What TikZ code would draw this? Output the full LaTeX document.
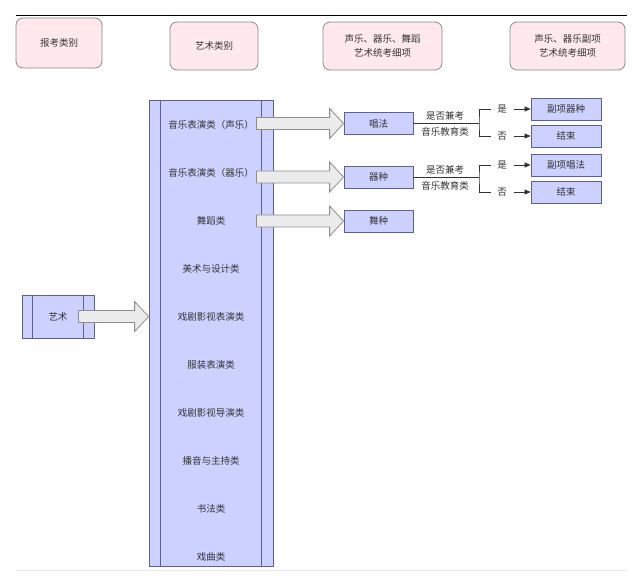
\documentclass[tikz,border=0pt]{standalone}
\usepackage{fontspec}
\setmainfont{Noto Sans CJK SC}
\usetikzlibrary{arrows.meta,calc}

\definecolor{hdrfill}{HTML}{FFE9EC}
\definecolor{hdrline}{HTML}{8A8A8A}
\definecolor{boxfill}{HTML}{CCD1FF}
\definecolor{boxline}{HTML}{5C6290}
\definecolor{arrfill}{HTML}{EBEBEB}
\definecolor{arrline}{HTML}{8E8E8E}
\definecolor{txtgray}{HTML}{333333}

\tikzset{
  hdr/.style={draw=hdrline, fill=hdrfill, rounded corners=7pt, line width=0.8pt,
    inner sep=0pt, align=center, text=txtgray, minimum height=48pt},
  procbox/.style={draw=boxline, fill=boxfill, line width=0.8pt, inner sep=0pt},
  itembox/.style={draw=boxline, fill=boxfill, line width=0.8pt, inner sep=0pt,
    minimum height=22pt, text=txtgray},
  lbl/.style={text=txtgray, inner sep=1pt},
  blockarr/.style={draw=arrline, fill=arrfill, line width=0.8pt},
  link/.style={draw=txtgray, line width=0.7pt},
  smallarr/.style={link, -{Triangle[length=6pt,width=5pt]}}
}

\newcommand\blockarrow[2]{%
  \path[blockarr] let \p1=(#1), \p2=(#2) in
    (\x1,\y2+6pt) -- (\x2-14pt,\y2+6pt) -- (\x2-14pt,\y2+15pt) -- (\x2,\y2)
    -- (\x2-14pt,\y2-15pt) -- (\x2-14pt,\y2-6pt) -- (\x1,\y2-6pt) -- cycle;}

\begin{document}
\begin{tikzpicture}[x=1pt,y=-1pt,font=\fontsize{9.5}{14}\selectfont]
\useasboundingbox (0,0) rectangle (635,577);

\draw[black, line width=0.8pt] (16,15) -- (627,15);
\draw[black!8, line width=0.8pt] (16,570) -- (627,570);

\node[hdr, minimum width=86pt, minimum height=50pt] (h1) at (59,43) {报考类别};
\node[hdr, minimum width=88pt] (h2) at (214,46) {艺术类别};
\node[hdr, minimum width=119pt] (h3) at (382.5,46) {声乐、器乐、舞蹈\\艺术统考细项};
\node[hdr, minimum width=115pt] (h4) at (567.5,46) {声乐、器乐副项\\艺术统考细项};

\node[procbox, minimum width=124pt, minimum height=466pt] (col) at (211,333) {};
\draw[boxline, line width=0.8pt] ($(col.north west)+(12,0)$) -- ($(col.south west)+(12,0)$);
\draw[boxline, line width=0.8pt] ($(col.north east)+(-12,0)$) -- ($(col.south east)+(-12,0)$);
\foreach \t [count=\i] in {音乐表演类（声乐）,音乐表演类（器乐）,舞蹈类,美术与设计类,
  戏剧影视表演类,服装表演类,戏剧影视导演类,播音与主持类,书法类,戏曲类}
  \node[lbl] (c\i) at (211,{125+(\i-1)*48}) {\t};

\node[procbox, minimum width=72pt, minimum height=43pt, text=txtgray] (art) at (58,316.5) {艺术};
\draw[boxline, line width=0.8pt] ($(art.north west)+(11,0)$) -- ($(art.south west)+(11,0)$);
\draw[boxline, line width=0.8pt] ($(art.north east)+(-11,0)$) -- ($(art.south east)+(-11,0)$);

\node[itembox, minimum width=69pt] (sing) at (378.5,123.5) {唱法};
\node[itembox, minimum width=69pt] (inst) at (378.5,177) {器种};
\node[itembox, minimum width=69pt] (dance) at (378.5,221) {舞种};

\blockarrow{$(art.east)+(-16,0)$}{col.west |- art.east}
\blockarrow{$(col.east)+(-17,0)$}{sing.west}
\blockarrow{$(col.east)+(-17,0)$}{inst.west}
\blockarrow{$(col.east)+(-17,0)$}{dance.west}

\node[itembox, minimum width=70pt] (sub1) at (566,109) {副项器种};
\node[itembox, minimum width=70pt] (end1) at (566,136) {结束};
\node[itembox, minimum width=70pt] (sub2) at (566,165) {副项唱法};
\node[itembox, minimum width=70pt] (end2) at (566,192) {结束};

\node[lbl] (ask1) at (445,116) {是否兼考};
\node[lbl] (edu1) at (445,132) {音乐教育类};
\node[lbl] (ask2) at (445,170) {是否兼考};
\node[lbl] (edu2) at (445,186) {音乐教育类};

\coordinate (b1) at (479,123.5);
\coordinate (b2) at (479,177);
\node[lbl] (y1) at (502,109) {是};
\node[lbl] (n1) at (502,136) {否};
\node[lbl] (y2) at (502,165) {是};
\node[lbl] (n2) at (502,192) {否};

\draw[link] (sing.east) -- (b1);
\draw[link] ($(y1.west)+(-5,0)$) -| (b1) |- ($(n1.west)+(-5,0)$);
\draw[smallarr] ($(y1.east)+(6,0)$) -- (sub1.west);
\draw[smallarr] ($(n1.east)+(6,0)$) -- (end1.west);

\draw[link] (inst.east) -- (b2);
\draw[link] ($(y2.west)+(-5,0)$) -| (b2) |- ($(n2.west)+(-5,0)$);
\draw[smallarr] ($(y2.east)+(6,0)$) -- (sub2.west);
\draw[smallarr] ($(n2.east)+(6,0)$) -- (end2.west);
\end{tikzpicture}
\end{document}
